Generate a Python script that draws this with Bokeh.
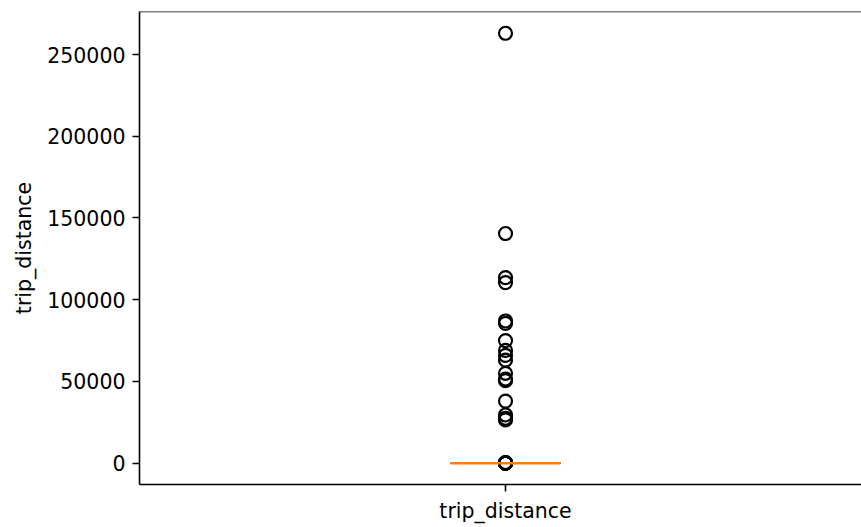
from bokeh.plotting import figure
from bokeh.models import Range1d, FixedTicker, Span, NumeralTickFormatter
from bokeh.embed import file_html
from bokeh.resources import INLINE

# ---- data ----
categories = ["trip_distance"]
positions = [1]
q1 = [1.0]
median = [1.7]
q3 = [3.1]
whisker_low = [0.0]
whisker_high = [6.2]
outliers = [263000, 140500, 113500, 110500, 87000, 85500, 75000, 69000,
            66000, 63000, 55000, 51500, 50500, 38000, 29500, 27500, 26500,
            7, 12, 20, 35, 60, 120, 250, 400]
y_ticks = [0, 50000, 100000, 150000, 200000, 250000]

FONT = "DejaVu Sans"
FS = "20.5px"
box_half = 0.075
cap_half = 0.0375

p = figure(width=861, height=527, output_backend="svg", toolbar_location=None,
           x_range=Range1d(0.5, 1.4863), y_range=Range1d(-13030, 276320),
           min_border_left=139, min_border_right=0, min_border_top=11,
           min_border_bottom=43)
p.outline_line_color = None
p.grid.visible = False
p.background_fill_color = "white"
p.border_fill_color = "white"

# top spine
p.add_layout(Span(location=276320, dimension="width", line_color="black",
                  line_width=1.6))

pos = positions[0]
# box
p.quad(left=[pos - box_half], right=[pos + box_half], bottom=q1, top=q3,
       fill_color=None, line_color="black", line_width=1.2)
# whiskers
p.segment(x0=[pos, pos], y0=[q1[0], q3[0]], x1=[pos, pos],
          y1=[whisker_low[0], whisker_high[0]], line_color="black", line_width=1.2)
# caps
p.segment(x0=[pos - cap_half, pos - cap_half], y0=[whisker_low[0], whisker_high[0]],
          x1=[pos + cap_half, pos + cap_half], y1=[whisker_low[0], whisker_high[0]],
          line_color="black", line_width=1.2)
# outliers
p.scatter(x=[pos] * len(outliers), y=outliers, marker="circle", size=13,
          fill_color=None, line_color="black", line_width=2.2)
# median
p.segment(x0=[pos - box_half], y0=median, x1=[pos + box_half], y1=median,
          line_color="#ff7f0e", line_width=2.4)

# axes styling
for ax in (p.xaxis[0], p.yaxis[0]):
    ax.axis_line_color = "black"
    ax.axis_line_width = 1.6
    ax.major_tick_line_color = "black"
    ax.major_tick_line_width = 1.6
    ax.major_tick_out = 7
    ax.major_tick_in = 0
    ax.minor_tick_line_color = None
    ax.major_label_standoff = 7
    ax.major_label_text_font = FONT
    ax.major_label_text_font_size = FS
    ax.major_label_text_color = "black"
    ax.axis_label_text_font = FONT
    ax.axis_label_text_font_size = FS
    ax.axis_label_text_font_style = "normal"
    ax.axis_label_text_color = "black"

p.xaxis.ticker = FixedTicker(ticks=positions)
p.xaxis.major_label_overrides = {positions[0]: categories[0]}

p.yaxis.ticker = FixedTicker(ticks=y_ticks)
p.yaxis.formatter = NumeralTickFormatter(format="0")
p.yaxis.axis_label = "trip_distance"
p.yaxis.axis_label_standoff = 8

open("out.html", "w").write(file_html(p, INLINE))
